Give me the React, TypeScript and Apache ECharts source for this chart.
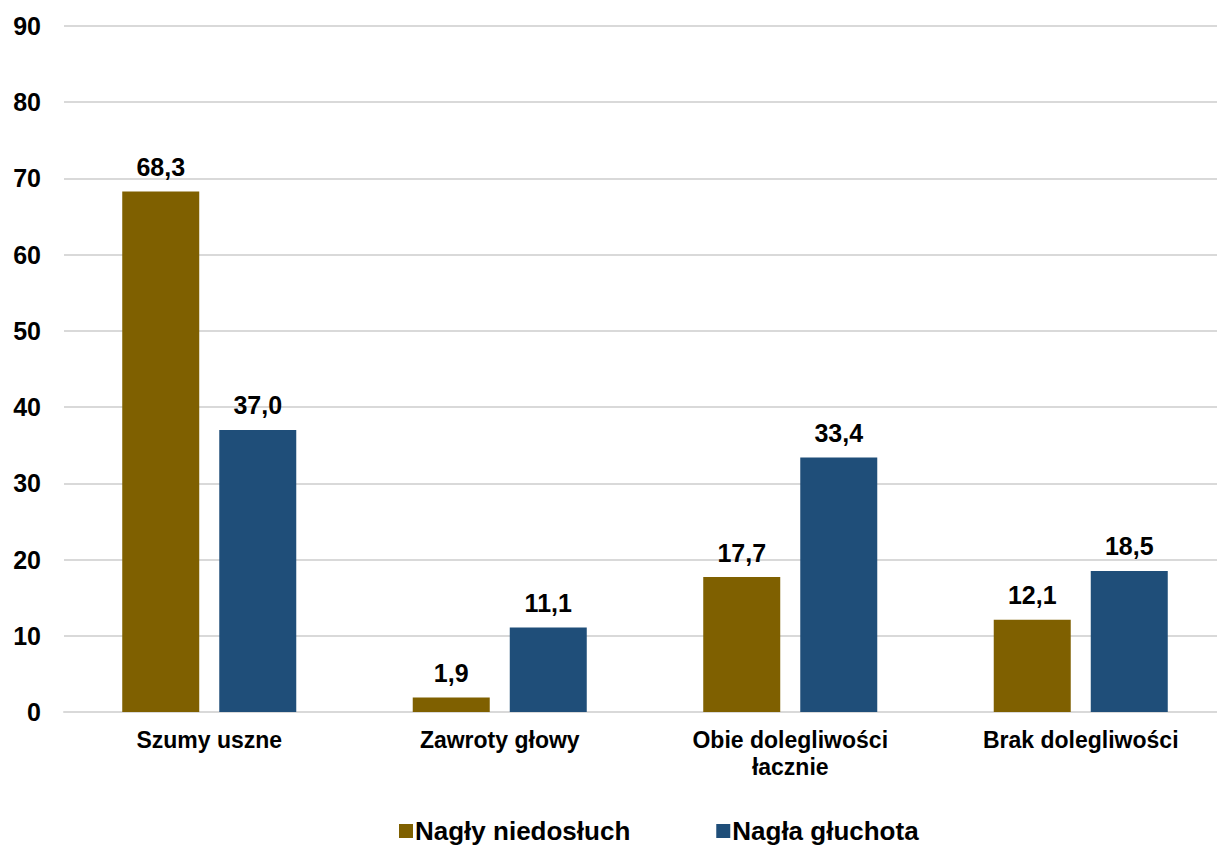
import React, { useEffect, useRef } from "react";
import * as echarts from "echarts";

const categories = ["Szumy uszne", "Zawroty głowy", "Obie dolegliwości\nłacznie", "Brak dolegliwości"];
const seriesNames = ["Nagły niedosłuch", "Nagła głuchota"];
const niedosluch = [68.3, 1.9, 17.7, 12.1];
const gluchota = [37.0, 11.1, 33.4, 18.5];
const colors = ["#7F6000", "#1F4E79"];

const FONT = "'Liberation Sans', Arial, sans-serif";

export default function App() {
  const ref = useRef<HTMLDivElement>(null);

  useEffect(() => {
    if (!ref.current) return;
    const chart = echarts.init(ref.current, null, { renderer: "svg" });
    const labelStyle = {
      show: true,
      position: "top" as const,
      distance: 12,
      fontFamily: FONT,
      fontWeight: "bold" as const,
      fontSize: 25,
      color: "#000",
      formatter: (p: any) => Number(p.value).toFixed(1).replace(".", ","),
    };
    chart.setOption({
      animation: false,
      textStyle: { fontFamily: FONT },
      grid: { left: 64, right: 0, top: 26, bottom: 133, containLabel: false },
      legend: {
        bottom: -4,
        left: 394,
        itemWidth: 14,
        itemHeight: 14,
        itemGap: 86,
        icon: "rect",
        textStyle: { fontFamily: FONT, fontWeight: "bold", fontSize: 26, color: "#000", padding: [0, 0, 0, -3] },
        data: seriesNames,
      },
      xAxis: {
        type: "category",
        data: categories,
        axisTick: { show: false },
        axisLine: { lineStyle: { color: "#D9D9D9", width: 2 } },
        axisLabel: {
          fontFamily: FONT,
          fontWeight: "bold",
          fontSize: 23,
          color: "#000",
          margin: 14,
          lineHeight: 27,
        },
      },
      yAxis: {
        type: "value",
        min: 0,
        max: 90,
        interval: 10,
        axisLine: { show: false },
        axisTick: { show: false },
        splitLine: { lineStyle: { color: "#D9D9D9", width: 2 } },
        axisLabel: {
          fontFamily: FONT,
          fontWeight: "bold",
          fontSize: 25,
          color: "#000",
          margin: 23,
        },
      },
      series: [
        {
          name: seriesNames[0],
          type: "bar",
          data: niedosluch,
          barWidth: 77,
          barGap: "26%",
          itemStyle: { color: colors[0] },
          label: labelStyle,
        },
        {
          name: seriesNames[1],
          type: "bar",
          data: gluchota,
          barWidth: 77,
          barGap: "26%",
          itemStyle: { color: colors[1] },
          label: labelStyle,
        },
      ],
    });
    return () => chart.dispose();
  }, []);

  // The plot area runs slightly past the right edge; the frame clips it.
  return (
    <div style={{ width: 1217, height: 845, position: "absolute", left: 0, top: 0, overflow: "hidden" }}>
      <div ref={ref} style={{ width: 1226, height: 845 }} />
    </div>
  );
}
